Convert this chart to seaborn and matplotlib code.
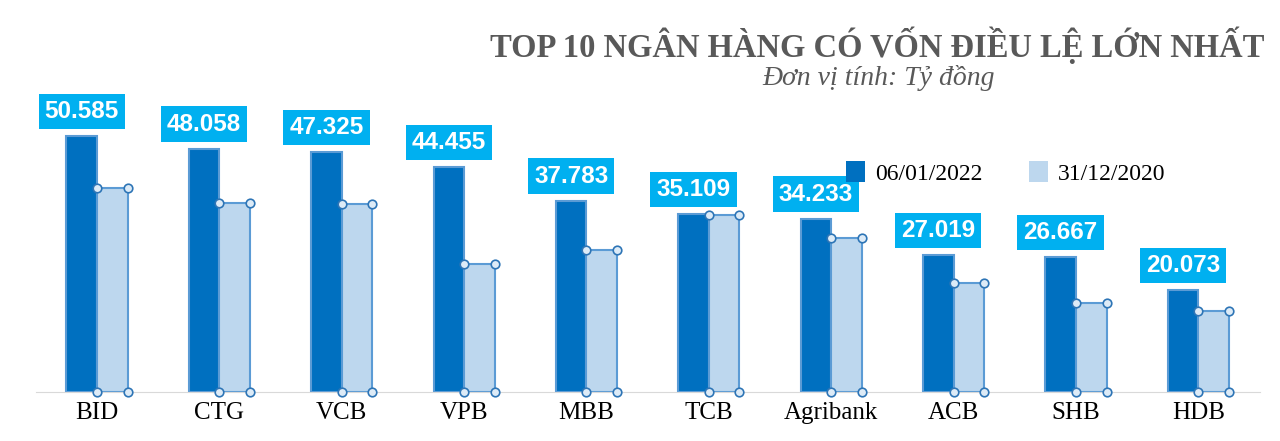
import pandas as pd
import matplotlib.pyplot as plt
import seaborn as sns

banks = ["BID", "CTG", "VCB", "VPB", "MBB", "TCB", "Agribank", "ACB", "SHB", "HDB"]
von_2022 = [50585, 48058, 47325, 44455, 37783, 35109, 34233, 27019, 26667, 20073]
von_2020 = [40220, 37234, 37089, 25300, 27988, 35049, 30473, 21616, 17558, 15999]
series = ["06/01/2022", "31/12/2020"]

df = pd.DataFrame({
    "bank": banks * 2,
    "value": von_2022 + von_2020,
    "series": [series[0]] * len(banks) + [series[1]] * len(banks),
})

fig = plt.figure(figsize=(12.8, 4.41), dpi=100)
ax = fig.add_axes([0.028, 0.111, 0.956, 0.689])
sns.barplot(data=df, x="bank", y="value", hue="series", hue_order=series,
            palette=["#0070C0", "#BDD7EE"], width=0.5, gap=0.0,
            saturation=1, ax=ax)

dark, light = ax.containers
for p in dark:
    p.set_edgecolor("#5B9BD5")
    p.set_linewidth(1.5)
for p in light:
    p.set_edgecolor("#5B9BD5")
    p.set_linewidth(1.5)
    x0, x1, h = p.get_x(), p.get_x() + p.get_width(), p.get_height()
    ax.scatter([x0, x1, x0, x1], [h, h, 0, 0], s=38, facecolor="#DDEBF7",
               edgecolor="#2E75B6", linewidth=1.2, zorder=5, clip_on=False)

for p, v in zip(dark, von_2022):
    ax.text(p.get_x() + p.get_width() / 2, v + 2600, f"{v:,}".replace(",", "."),
            ha="center", va="bottom", fontsize=17.5, fontweight="bold",
            color="white", family="Liberation Sans",
            bbox=dict(boxstyle="square,pad=0.25", fc="#00B0F0", ec="none"))

ax.set_ylim(0, 60000)
ax.set_xlim(-0.5, 9.5)
ax.set_xlabel("")
ax.set_ylabel("")
ax.set_yticks([])
ax.tick_params(axis="x", length=0, labelsize=18, pad=7)
for t in ax.get_xticklabels():
    t.set_family("Liberation Serif")
for s in ["top", "right", "left"]:
    ax.spines[s].set_visible(False)
ax.spines["bottom"].set_color("#D9D9D9")

ax.legend(loc="upper left", bbox_to_anchor=(0.645, 0.83), ncol=2, frameon=False,
          prop={"family": "Liberation Serif", "size": 17}, handlelength=0.8,
          handleheight=1.0, columnspacing=2.0, handletextpad=0.4)

fig.text(0.988, 0.898, "TOP 10 NGÂN HÀNG CÓ VỐN ĐIỀU LỆ LỚN NHẤT", ha="right",
         va="center", fontsize=23.5, fontweight="bold", color="#595959",
         family="Liberation Serif")
fig.text(0.686, 0.823, "Đơn vị tính: Tỷ đồng", ha="center", va="center",
         fontsize=20, style="italic", color="#595959", family="Liberation Serif")

fig.savefig("out.png", dpi=100)
